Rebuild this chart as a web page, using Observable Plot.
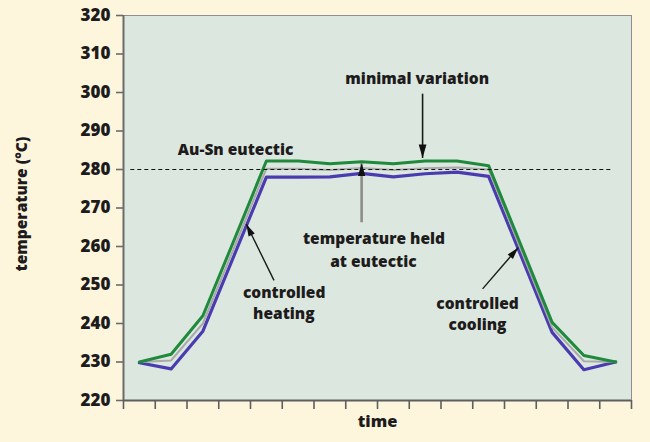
<!DOCTYPE html>
<html>
<head>
<meta charset="utf-8">
<script src="https://cdn.jsdelivr.net/npm/d3@7"></script>
<script src="https://cdn.jsdelivr.net/npm/@observablehq/plot@0.6"></script>
<style>
  html, body { margin: 0; padding: 0; background: #FDF5DC; }
  #chart { width: 650px; height: 442px; }
</style>
</head>
<body>
<div id="chart"></div>
<script>
// ---- data ----
const time  = [0.5, 1.5, 2.5, 3.5, 4.5, 5.5, 6.5, 7.5, 8.5, 9.5, 10.5, 11.5, 12.5, 13.5, 14.5, 15.5];
const green = [230, 232, 242, 262, 282.2, 282.2, 281.5, 282.0, 281.5, 282.2, 282.2, 281.0, 260.7, 240.3, 231.7, 230];
const gray  = [230, 230.4, 240, 260, 280.2, 280.2, 279.9, 280.4, 279.9, 280.3, 280.5, 280.0, 259.5, 239.0, 230.2, 230];
const blue  = [229.8, 228.2, 238, 258, 278.0, 278.0, 278.1, 279.0, 278.1, 278.9, 279.3, 278.2, 258.0, 237.7, 228.0, 230];
const yTicks = [220, 230, 240, 250, 260, 270, 280, 290, 300, 310, 320];
const xTicks = [0, 1, 2, 3, 4, 5, 6, 7, 8, 9, 10, 11, 12, 13, 14, 15, 16];
const eutectic = 280;
const eutecticSpan = [0.23, 15.44];

const labels = [
  {text: "Au-Sn eutectic", x: 3.53, y: 285.0},
  {text: "minimal variation", x: 9.25, y: 303.5},
  {text: "temperature held", x: 7.89, y: 262.0},
  {text: "at eutectic", x: 7.87, y: 256.0},
  {text: "controlled", x: 5.06, y: 247.8},
  {text: "heating", x: 5.05, y: 242.4},
  {text: "controlled", x: 11.15, y: 245.1},
  {text: "cooling", x: 11.15, y: 239.5}
];
const arrows = [
  {x1: 9.42, y1: 299.7, x2: 9.42, y2: 283.0, stroke: "#1a1a1a", width: 1.6, dash: null, r: 5},
  {x1: 7.50, y1: 266.3, x2: 7.50, y2: 281.6, stroke: "#8c8c8c", width: 2.6, dash: null, r: 4.5},
  {x1: 4.74, y1: 251.2, x2: 3.87, y2: 265.8, stroke: "#1a1a1a", width: 1.4, dash: "3,2", r: 4},
  {x1: 11.31, y1: 249.0, x2: 12.43, y2: 259.7, stroke: "#1a1a1a", width: 1.4, dash: "3,2", r: 4}
];

// ---- layout ----
const W = 650, H = 442, mL = 123, mR = 19, mT = 15, mB = 42;
const xDomain = [0, 16], yDomain = [220, 320];
const kx = (W - mL - mR) / (xDomain[1] - xDomain[0]);
const ky = (H - mT - mB) / (yDomain[1] - yDomain[0]);
arrows.forEach(a => { a.rot = Math.atan2((a.x2 - a.x1) * kx, (a.y2 - a.y1) * ky) * 180 / Math.PI; });

const rows = (vals, name) => time.map((t, i) => ({t, v: vals[i], s: name}));
const headSymbol = {
  draw(ctx, size) {
    const r = Math.sqrt(size / Math.PI);
    const L = 4 * r, w = 1.15 * r;
    ctx.moveTo(0, 0);
    ctx.lineTo(w, L);
    ctx.lineTo(-w, L);
    ctx.closePath();
  }
};

const txt = "#1E1B1C";
const FW = 800;
const chart = Plot.plot({
  width: W, height: H,
  marginLeft: mL, marginRight: mR, marginTop: mT, marginBottom: mB,
  style: {background: "#FDF5DC", fontFamily: "'Open Sans', sans-serif", fontWeight: FW, color: txt, overflow: "visible"},
  x: {domain: xDomain},
  y: {domain: yDomain},
  marks: [
    Plot.frame({fill: "#DCE8DF", stroke: "#8f8f8f", strokeWidth: 1}),
    Plot.axisY({ticks: yTicks, tickSize: 7, tickPadding: 6, fontSize: 17, fontWeight: FW, stroke: "#6b6b6b", strokeWidth: 1.6, fill: txt, label: null}),
    Plot.axisX({ticks: xTicks, tickSize: 9, tickFormat: () => "", stroke: "#5e5e5e", strokeWidth: 1.6, label: null}),
    Plot.ruleX([xDomain[0]], {stroke: "#6b6b6b", strokeWidth: 2}),
    Plot.ruleY([yDomain[0]], {stroke: "#5e5e5e", strokeWidth: 2}),
    Plot.line(rows(blue, "blue"), {x: "t", y: "v", stroke: "#4A3CB0", strokeWidth: 3.2}),
    Plot.line(rows(gray, "gray"), {x: "t", y: "v", stroke: "#A9A9A9", strokeWidth: 2}),
    Plot.line(rows(green, "green"), {x: "t", y: "v", stroke: "#1F8A3B", strokeWidth: 3}),
    Plot.ruleY([eutectic], {x1: eutecticSpan[0], x2: eutecticSpan[1], stroke: "#111", strokeWidth: 1.2, strokeDasharray: "4,3"}),
    Plot.link(arrows, {x1: "x1", y1: "y1", x2: "x2", y2: "y2", stroke: d => d.stroke, strokeWidth: d => d.width, strokeDasharray: d => d.dash}),
    Plot.dot(arrows, {x: "x2", y: "y2", r: "r", rotate: "rot", symbol: headSymbol, fill: "#111", stroke: "none"}),
    Plot.text(labels, {x: "x", y: "y", text: "text", fontSize: 15.5, fontWeight: FW, fill: txt}),
    Plot.text(["temperature (°C)"], {frameAnchor: "left", textAnchor: "middle", dx: -101, dy: -4, rotate: -90, text: d => d, fontSize: 15.5, fontWeight: FW, fill: txt}),
    Plot.text(["time"], {frameAnchor: "bottom", textAnchor: "middle", dy: 26, text: d => d, fontSize: 16.5, fontWeight: FW, fill: txt})
  ]
});
document.getElementById("chart").appendChild(chart);
</script>
</body>
</html>
